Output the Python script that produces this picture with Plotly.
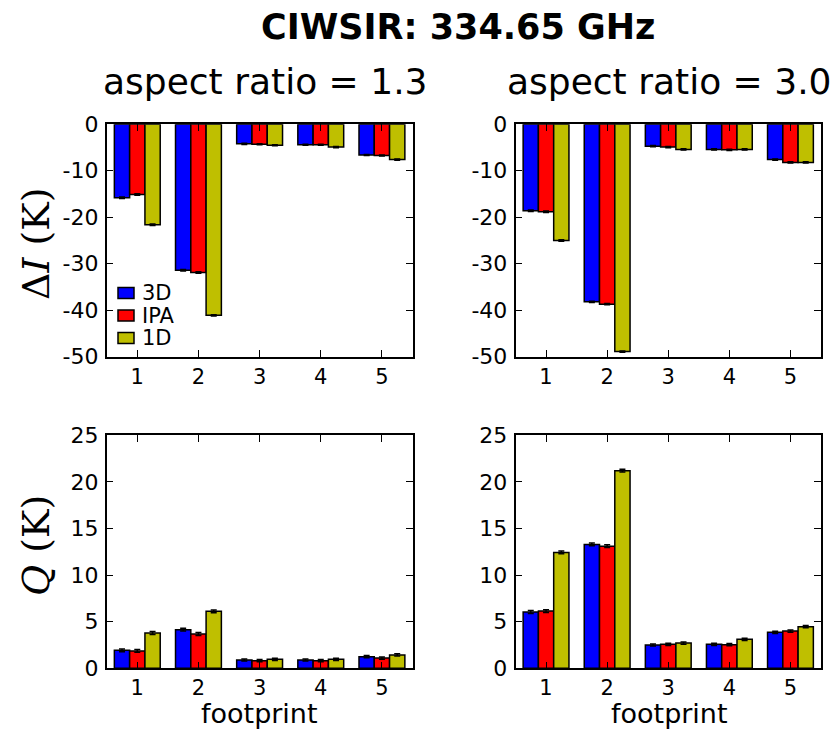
import plotly.graph_objects as go

footprints = [1, 2, 3, 4, 5]
series = ["3D", "IPA", "1D"]
colors = {"3D": "#0000ff", "IPA": "#ff0000", "1D": "#bfbf00"}

# Delta I, aspect ratio 1.3
dI_13 = {
    "3D": [-15.8, -31.4, -4.2, -4.4, -6.6],
    "IPA": [-15.1, -31.9, -4.3, -4.4, -6.7],
    "1D": [-21.6, -41.1, -4.5, -4.9, -7.6],
}
# Delta I, aspect ratio 3.0
dI_30 = {
    "3D": [-18.6, -38.2, -4.7, -5.4, -7.6],
    "IPA": [-18.8, -38.7, -4.9, -5.5, -8.2],
    "1D": [-25.0, -48.9, -5.4, -5.4, -8.2],
}
# Q, aspect ratio 1.3
Q_13 = {
    "3D": [1.93, 4.14, 0.89, 0.89, 1.25],
    "IPA": [1.86, 3.68, 0.82, 0.82, 1.10],
    "1D": [3.79, 6.11, 0.96, 0.96, 1.43],
}
# Q, aspect ratio 3.0
Q_30 = {
    "3D": [6.04, 13.29, 2.50, 2.57, 3.86],
    "IPA": [6.14, 13.10, 2.57, 2.54, 4.00],
    "1D": [12.43, 21.20, 2.71, 3.11, 4.46],
}
err_vals = [0.15, 0.15, 0.12, 0.12, 0.12]

dI_ticks = [0, -10, -20, -30, -40, -50]
dI_ticklabels = ["0", "-10", "-20", "-30", "-40", "-50"]
Q_ticks = [0, 5, 10, 15, 20, 25]

W, H = 838, 730
def px_x(a, b):
    return [a / W, b / W]
def px_y(top, bottom):
    return [1 - bottom / H, 1 - top / H]

fig = go.Figure()

panels = [
    (dI_13, "x", "y"),
    (dI_30, "x2", "y2"),
    (Q_13, "x3", "y3"),
    (Q_30, "x4", "y4"),
]
for data, xa, ya in panels:
    for s in series:
        fig.add_trace(go.Bar(
            x=footprints, y=data[s], name=s, xaxis=xa, yaxis=ya,
            marker=dict(color=colors[s], line=dict(color="black", width=1.5)),
            error_y=dict(type="data", array=err_vals, color="black", thickness=1.5, width=3),
            showlegend=False, offsetgroup=s,
        ))

common_x = dict(range=[0.5, 5.5], tickvals=footprints, ticks="inside", ticklen=7,
                showline=True, linecolor="black", linewidth=1.5, mirror="ticks",
                tickfont=dict(family="DejaVu Sans", size=21, color="black"),
                showgrid=False, zeroline=False, tickcolor="black",
                automargin=False, ticklabelstandoff=0)
common_y = dict(ticks="inside", ticklen=7, showline=True, linecolor="black", linewidth=1.5,
                mirror="ticks", tickfont=dict(family="DejaVu Sans", size=22, color="black"),
                showgrid=False, zeroline=False, tickcolor="black",
                automargin=False, ticklabelstandoff=2)

dx_left = px_x(106.7, 412.5)
dx_right = px_x(515.5, 821)
dy_top = px_y(124.3, 356.7)
dy_bot = px_y(435.3, 668.3)

fig.update_layout(
    width=W, height=H,
    margin=dict(l=0, r=0, t=0, b=0, pad=0, autoexpand=False),
    paper_bgcolor="white", plot_bgcolor="white",
    barmode="group", bargap=0.25, bargroupgap=0,
    xaxis=dict(domain=dx_left, anchor="y", **common_x),
    yaxis=dict(domain=dy_top, anchor="x", range=[-50, 0], tickvals=dI_ticks, ticktext=dI_ticklabels, **common_y),
    xaxis2=dict(domain=dx_right, anchor="y2", **common_x),
    yaxis2=dict(domain=dy_top, anchor="x2", range=[-50, 0], tickvals=dI_ticks, ticktext=dI_ticklabels, **common_y),
    xaxis3=dict(domain=dx_left, anchor="y3", **common_x),
    yaxis3=dict(domain=dy_bot, anchor="x3", range=[0, 25], tickvals=Q_ticks, **common_y),
    xaxis4=dict(domain=dx_right, anchor="y4", **common_x),
    yaxis4=dict(domain=dy_bot, anchor="x4", range=[0, 25], tickvals=Q_ticks, **common_y),
    showlegend=False,
)

annotations = [
    dict(text="<b>CIWSIR: 334.65 GHz</b>", x=458 / W, y=1 - 27 / H, yanchor="middle",
         font=dict(family="DejaVu Sans", size=35, color="black")),
    dict(text="aspect ratio = 1.3", x=265 / W, y=1 - 82 / H, yanchor="middle",
         font=dict(family="DejaVu Sans", size=36, color="black")),
    dict(text="aspect ratio = 3.0", x=669 / W, y=1 - 82 / H, yanchor="middle",
         font=dict(family="DejaVu Sans", size=36, color="black")),
    dict(text="Δ<i>I</i> (K)", x=36 / W, y=1 - 244 / H, textangle=-90, yanchor="middle",
         font=dict(family="DejaVu Serif", size=38, color="black")),
    dict(text="<i>Q</i> (K)", x=36 / W, y=1 - 546 / H, textangle=-90, yanchor="middle",
         font=dict(family="DejaVu Serif", size=38, color="black")),
    dict(text="footprint", x=259 / W, y=0, yanchor="bottom", borderpad=0,
         font=dict(family="DejaVu Sans", size=27, color="black")),
    dict(text="footprint", x=669 / W, y=0, yanchor="bottom", borderpad=0,
         font=dict(family="DejaVu Sans", size=27, color="black")),
]
for a in annotations:
    a.update(xanchor="center")

# legend (inside top-left panel, lower-left corner)
shapes = []
leg_rows = [293, 315.5, 338]
for s, yc in zip(series, leg_rows):
    shapes.append(dict(type="rect", xref="paper", yref="paper",
                       x0=118 / W, x1=134 / W, y0=1 - (yc + 5.5) / H, y1=1 - (yc - 5.5) / H,
                       fillcolor=colors[s], line=dict(color="black", width=1.5)))
    annotations.append(dict(text=s, x=140 / W, y=1 - yc / H, xanchor="left", yanchor="middle",
                            font=dict(family="DejaVu Sans", size=21, color="black")))

for a in annotations:
    a.update(xref="paper", yref="paper", showarrow=False)
fig.update_layout(annotations=annotations, shapes=shapes)

fig.write_html("out.html")
